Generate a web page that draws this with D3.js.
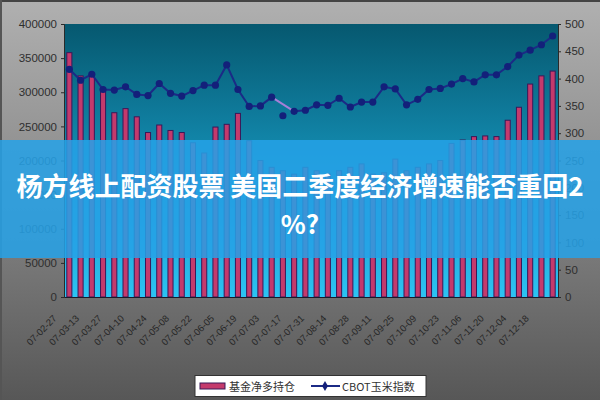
<!DOCTYPE html>
<html><head><meta charset="utf-8">
<script src="https://cdn.jsdelivr.net/npm/d3@7"></script>
<style>html,body{margin:0;padding:0;background:#888;}svg{display:block;}</style>
</head><body>
<svg id="c" width="600" height="400"></svg>
<script>
const categories = ["07-02-27","07-03-06","07-03-13","07-03-20","07-03-27","07-04-03","07-04-10","07-04-17","07-04-24","07-05-01","07-05-08","07-05-15","07-05-22","07-05-29","07-06-05","07-06-12","07-06-19","07-06-26","07-07-03","07-07-10","07-07-17","07-07-24","07-07-31","07-08-07","07-08-14","07-08-21","07-08-28","07-09-04","07-09-11","07-09-18","07-09-25","07-10-02","07-10-09","07-10-16","07-10-23","07-10-30","07-11-06","07-11-13","07-11-20","07-11-27","07-12-04","07-12-11","07-12-18","07-12-25"];
const fundNetLong = [358000,324000,325000,303000,270000,276000,264000,241000,252000,244000,241000,226000,211000,249000,253000,269000,229000,200000,190000,185000,180000,190000,185000,180000,185000,190000,195000,180000,182000,202000,185000,190000,195000,200000,225000,230000,235000,236000,235000,259000,278000,312000,324000,331000];
const cbotCorn = [417,397,408,380,379,385,371,369,391,373,368,378,388,388,425,380,349,350,366,332,340,342,352,351,364,348,357,357,385,381,352,362,380,382,390,400,394,407,407,422,443,452,462,478];
const leftTicks = [0,50000,100000,150000,200000,250000,300000,350000,400000];
const rightTicks = [0,50,100,150,200,250,300,350,400,450,500];
const legendLabels = ["基金净多持仓","CBOT玉米指数"];
const titleLines = ["杨方线上配资股票 美国二季度经济增速能否重回2","%?"];

const svg = d3.select("#c");
const W=600,H=400, L=64, R=558, T=24, B=297;
const defs = svg.append("defs");
const bg = defs.append("linearGradient").attr("id","bg").attr("x1",0).attr("y1",0).attr("x2",0).attr("y2",1);
bg.append("stop").attr("offset","0%").attr("stop-color","#b0b0b0");
bg.append("stop").attr("offset","35%").attr("stop-color","#949494");
bg.append("stop").attr("offset","100%").attr("stop-color","#575757");
const pg = defs.append("linearGradient").attr("id","pg").attr("x1",0).attr("y1",0).attr("x2",0).attr("y2",1);
pg.append("stop").attr("offset","0%").attr("stop-color","#06586f");
pg.append("stop").attr("offset","45%").attr("stop-color","#1287ab");
pg.append("stop").attr("offset","100%").attr("stop-color","#2cc3f4");

svg.append("rect").attr("width",W).attr("height",H).attr("fill","url(#bg)");
svg.append("rect").attr("x",0).attr("y",0).attr("width",W).attr("height",2).attr("fill","#444");
svg.append("rect").attr("x",0).attr("y",0).attr("width",2).attr("height",H).attr("fill","#555");

const x = d3.scaleBand().domain(categories).range([L,R]).paddingInner(0.55).paddingOuter(0.25);
const yL = d3.scaleLinear().domain([0,400000]).range([B,T]);
const yR = d3.scaleLinear().domain([0,500]).range([B,T]);

svg.append("rect").attr("x",L).attr("y",T).attr("width",R-L).attr("height",B-T).attr("fill","url(#pg)");

// bars
svg.append("g").selectAll("rect").data(fundNetLong).join("rect")
  .attr("x",(d,i)=>x(categories[i]))
  .attr("y",d=>yL(d))
  .attr("width",x.bandwidth())
  .attr("height",d=>B-yL(d))
  .attr("fill","#c43a6c").attr("stroke","#3b1858").attr("stroke-width",1);

// axes
const fontF = "'Liberation Sans','DejaVu Sans',sans-serif";
const ga = svg.append("g").attr("transform",`translate(${L},0)`)
  .call(d3.axisLeft(yL).tickValues(leftTicks).tickSize(3).tickFormat(d3.format("d")));
ga.select(".domain").attr("stroke","#2a2a2a");
ga.selectAll("line").attr("stroke","#2a2a2a");
ga.selectAll("text").attr("font-family",fontF).attr("font-size",11.5).attr("fill","#2e2e2e").attr("x",-7);
const gr = svg.append("g").attr("transform",`translate(${R},0)`)
  .call(d3.axisRight(yR).tickValues(rightTicks).tickSize(3));
gr.select(".domain").attr("stroke","#2a2a2a");
gr.selectAll("line").attr("stroke","#2a2a2a");
gr.selectAll("text").attr("font-family",fontF).attr("font-size",11.5).attr("fill","#2e2e2e").attr("x",7);
const gb = svg.append("g").attr("transform",`translate(0,${B})`)
  .call(d3.axisBottom(x).tickSize(0).tickFormat(""));
gb.select(".domain").attr("stroke","#1a1a2a");

// x labels (every other)
svg.append("g").selectAll("text").data(categories.filter((d,i)=>i%2===0)).join("text")
  .attr("transform",d=>`translate(${x(d)+x.bandwidth()/2-12},${B+22}) rotate(-45)`)
  .attr("text-anchor","end").attr("font-family",fontF).attr("font-size",9.5).attr("fill","#262626")
  .text(d=>d);

// line
const cx = i => x(categories[i])+x.bandwidth()/2;
const line = d3.line().defined((d,i)=>i!==19).x((d,i)=>cx(i)).y(d=>yR(d));
svg.append("path").datum(cbotCorn).attr("d",line).attr("fill","none").attr("stroke","#1b2a86").attr("stroke-width",2);
svg.append("path").datum([18,20]).attr("d",d3.line().x(i=>cx(i)).y(i=>yR(cbotCorn[i])))
  .attr("fill","none").attr("stroke","#a77fd8").attr("stroke-width",2);
svg.append("g").selectAll("circle").data(cbotCorn).join("circle")
  .attr("cx",(d,i)=>cx(i)).attr("cy",d=>yR(d)).attr("r",3.6).attr("fill","#13207a");

// legend
const lg = svg.append("g");
lg.append("rect").attr("x",195).attr("y",375.5).attr("width",231).attr("height",21).attr("fill","#fff").attr("stroke","#333");
lg.append("rect").attr("x",200).attr("y",383).attr("width",25).attr("height",6).attr("fill","#c43a6c").attr("stroke","#3b1858");
lg.append("text").attr("x",229).attr("y",391).attr("font-family","'Noto Sans CJK SC',sans-serif").attr("font-size",11).attr("fill","#333").text(legendLabels[0]);
lg.append("line").attr("x1",311).attr("x2",340).attr("y1",386).attr("y2",386).attr("stroke","#1b2a86").attr("stroke-width",2);
lg.append("path").attr("transform","translate(325,386)").attr("d",d3.symbol(d3.symbolDiamond,30)).attr("fill","#13207a");
lg.append("text").attr("x",342).attr("y",391).attr("font-family","'Noto Sans CJK SC',sans-serif").attr("font-size",11).attr("fill","#333").text(legendLabels[1]);

// banner overlay
svg.append("rect").attr("x",0).attr("y",140).attr("width",W).attr("height",118).attr("fill","#25a2e8").attr("opacity",0.86);
svg.append("g").selectAll("text").data(titleLines).join("text")
  .attr("x",300).attr("y",(d,i)=>196+i*38).attr("text-anchor","middle")
  .attr("font-family","'Noto Sans CJK SC',sans-serif").attr("font-weight",700).attr("font-size",26).attr("fill","#fff")
  .text(d=>d);
</script>
</body></html>
